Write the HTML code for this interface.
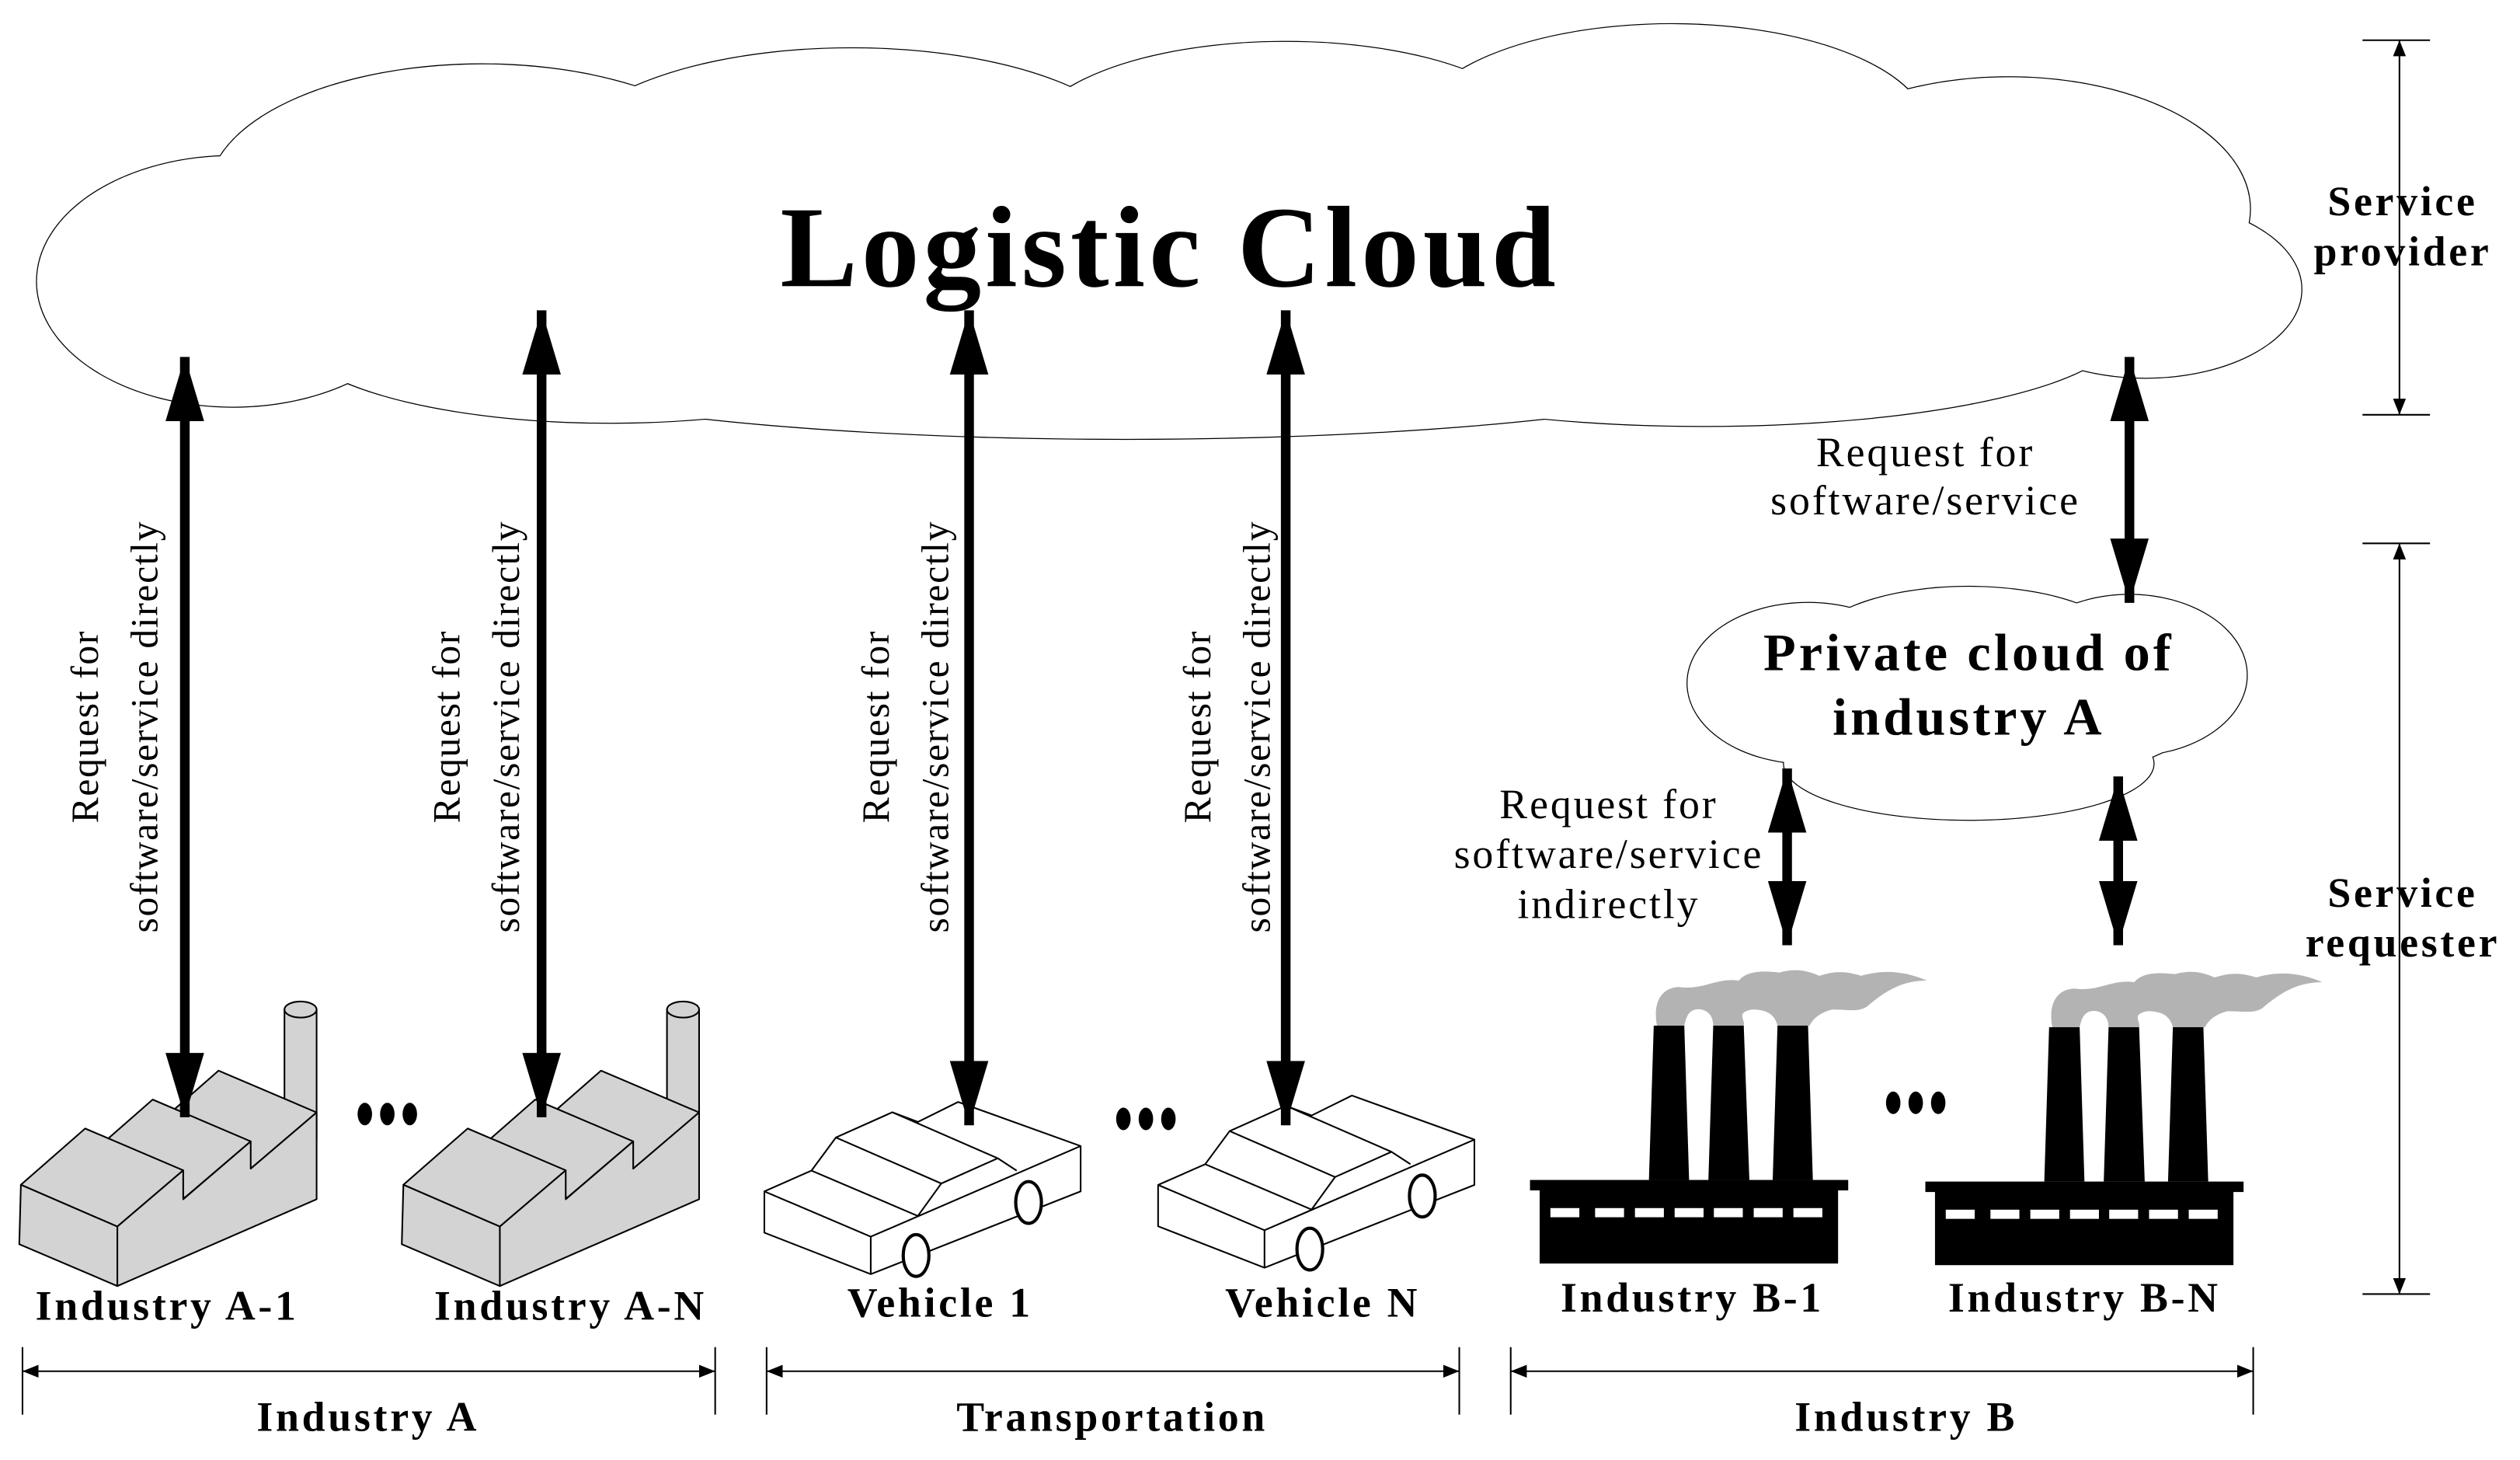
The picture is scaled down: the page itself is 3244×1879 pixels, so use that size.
<!DOCTYPE html>
<html><head><meta charset="utf-8"><style>html,body{margin:0;padding:0;background:#fff}svg{display:block}</style></head>
<body>
<svg width="3244" height="1879" viewBox="0 0 1568 908.2" xmlns="http://www.w3.org/2000/svg" font-family="'Liberation Serif', serif">
<defs>
<marker id="ah" viewBox="0 0 40 24" refX="40" refY="12" markerWidth="40" markerHeight="24" markerUnits="userSpaceOnUse" orient="auto-start-reverse"><path d="M0,0 L40,12 L0,24 Z" fill="#000"/></marker>
<g id="bigE">
<ellipse cx="145" cy="175" rx="122" ry="78"/>
<ellipse cx="300" cy="120" rx="170" ry="80"/>
<ellipse cx="530" cy="100" rx="180" ry="70"/>
<ellipse cx="800" cy="88" rx="160" ry="62"/>
<ellipse cx="1040" cy="82" rx="160" ry="67"/>
<ellipse cx="1250" cy="130" rx="150" ry="82"/>
<ellipse cx="1335" cy="180" rx="97" ry="55"/>
<ellipse cx="700" cy="215" rx="420" ry="58"/>
<ellipse cx="1060" cy="205" rx="260" ry="60"/>
<ellipse cx="380" cy="205" rx="200" ry="58"/>
<ellipse cx="720" cy="150" rx="620" ry="95"/>
</g>
<g id="smallE">
<ellipse cx="1225" cy="437" rx="150" ry="52"/>
<ellipse cx="1125" cy="425" rx="75" ry="50"/>
<ellipse cx="1325" cy="420" rx="73" ry="50"/>
<ellipse cx="1225" cy="405" rx="100" ry="40"/>
<ellipse cx="1225" cy="475" rx="115" ry="35"/>
</g>
<g id="factA">
<rect x="177" y="628" width="20" height="80" fill="#d3d3d3" stroke="#000" stroke-width="1"/>
<ellipse cx="187" cy="628" rx="10" ry="5" fill="#d3d3d3" stroke="#000" stroke-width="1"/>
<g fill="#d3d3d3" stroke="#000" stroke-width="1" stroke-linejoin="round">
<polygon points="96,701 136,666 197,692 156,727"/>
<polygon points="55,719 95,684 156,710 115,745"/>
<polygon points="13,737 53,702 114,728 73,763"/>
<polygon points="73,763 114,728 114,746 156,710 156,727 197,692 197,746 73,800"/>
<polygon points="13,737 73,763 73,800 12,774"/>
</g>
</g>
<g id="car" fill="#fff" stroke="#000" stroke-width="1" stroke-linejoin="round">
<polygon points="475.6,741.1 504.9,728.2 520.1,707.6 555.2,691.9 571.1,697.9 596.2,685.5 672.4,712.9 672.4,741.1 541.8,792.6 475.6,766.8"/>
<polyline fill="none" points="475.6,741.1 541.8,769.3 672.4,712.9"/>
<line x1="541.8" y1="769.3" x2="541.8" y2="792.6"/>
<polyline fill="none" points="504.9,728.2 571.1,756.4 585.7,736.2 520.1,707.6"/>
<polyline fill="none" points="585.7,736.2 620.8,720.5 555.2,691.9"/>
<line x1="620.8" y1="720.5" x2="632.6" y2="728.2"/>
<ellipse cx="640" cy="748" rx="8" ry="13" stroke-width="2"/>
<ellipse cx="570" cy="781" rx="8" ry="13" stroke-width="2"/>
</g>
<g id="factB">
<path d="M1031,638 C1028,622 1035,614 1045,614 C1060,616 1068,608 1082,610 C1085,606 1092,603 1107,605 C1118,602 1125,604 1132,607 C1142,604 1148,604 1158,607 C1172,603 1185,604 1199,610 C1185,610 1175,615 1163,625 C1158,630 1150,628 1140,628 C1132,630 1128,634 1126,638 L1106,638 C1104,630 1098,628 1090,628 C1080,630 1086,634 1085,638 L1066,638 C1066,630 1060,627 1055,628 C1050,629 1049,634 1048,638 Z" fill="#b3b3b3"/>
<g fill="#000">
<polygon points="1029,638 1048,638 1051,734 1026,734"/>
<polygon points="1066,638 1085,638 1088.5,734 1063,734"/>
<polygon points="1106,638 1125,638 1128,734 1103,734"/>
<rect x="952" y="734" width="198" height="6.5"/>
<rect x="958" y="740" width="185.7" height="46"/>
</g>
<g fill="#fff">
<rect x="964.7" y="751.5" width="18" height="5.7"/><rect x="992.5" y="751.5" width="18" height="5.7"/><rect x="1017.3" y="751.5" width="18" height="5.7"/><rect x="1042" y="751.5" width="18" height="5.7"/><rect x="1066.4" y="751.5" width="18" height="5.7"/><rect x="1091.2" y="751.5" width="18" height="5.7"/><rect x="1115.9" y="751.5" width="18" height="5.7"/>
</g>
</g>
</defs>

<use href="#bigE" fill="#fff" stroke="#000" stroke-width="1.2"/>
<use href="#bigE" fill="#fff" stroke="none"/>
<use href="#smallE" fill="#fff" stroke="#000" stroke-width="1.2"/>
<use href="#smallE" fill="#fff" stroke="none"/>

<text x="728" y="178" font-size="72" font-weight="bold" letter-spacing="2.5" text-anchor="middle">Logistic Cloud</text>
<text x="1225" y="417" font-size="33" font-weight="bold" letter-spacing="2" text-anchor="middle">Private cloud of</text>
<text x="1225" y="457" font-size="33" font-weight="bold" letter-spacing="2" text-anchor="middle">industry A</text>

<use href="#factA"/>
<use href="#factA" transform="translate(238,0)"/>
<use href="#car"/>
<use href="#car" transform="translate(245,-4)"/>
<use href="#factB"/>
<use href="#factB" transform="translate(246,1)"/>

<g stroke="#000" stroke-width="6" marker-start="url(#ah)" marker-end="url(#ah)">
<line x1="115" y1="222" x2="115" y2="695"/>
<line x1="337" y1="193" x2="337" y2="695"/>
<line x1="603" y1="193" x2="603" y2="700"/>
<line x1="800" y1="193" x2="800" y2="700"/>
<line x1="1325" y1="222" x2="1325" y2="375"/>
<line x1="1112" y1="478" x2="1112" y2="588"/>
<line x1="1318" y1="483" x2="1318" y2="588"/>
</g>

<g fill="#000">
<ellipse cx="227" cy="693" rx="4.5" ry="7"/><ellipse cx="241" cy="693" rx="4.5" ry="7"/><ellipse cx="255" cy="693" rx="4.5" ry="7"/>
<ellipse cx="699" cy="696" rx="4.5" ry="7"/><ellipse cx="713" cy="696" rx="4.5" ry="7"/><ellipse cx="727" cy="696" rx="4.5" ry="7"/>
<ellipse cx="1178" cy="686" rx="4.5" ry="7"/><ellipse cx="1192" cy="686" rx="4.5" ry="7"/><ellipse cx="1206" cy="686" rx="4.5" ry="7"/>
</g>

<g font-size="24" letter-spacing="0.8" text-anchor="middle">
<g transform="translate(61,452) rotate(-90)"><text x="0" y="0">Request for</text><text x="0" y="37">software/service directly</text></g>
<g transform="translate(286,452) rotate(-90)"><text x="0" y="0">Request for</text><text x="0" y="37">software/service directly</text></g>
<g transform="translate(553,452) rotate(-90)"><text x="0" y="0">Request for</text><text x="0" y="37">software/service directly</text></g>
<g transform="translate(753,452) rotate(-90)"><text x="0" y="0">Request for</text><text x="0" y="37">software/service directly</text></g>
</g>
<g font-size="26" letter-spacing="1.4" text-anchor="middle">
<text x="1198" y="290">Request for</text>
<text x="1198" y="320">software/service</text>
<text x="1001" y="509">Request for</text>
<text x="1001" y="540">software/service</text>
<text x="1001" y="571">indirectly</text>
</g>

<g font-size="26" font-weight="bold" letter-spacing="1.8" text-anchor="middle">
<text x="104" y="821">Industry A-1</text>
<text x="355" y="821">Industry A-N</text>
<text x="585" y="819">Vehicle 1</text>
<text x="823" y="819">Vehicle N</text>
<text x="1053" y="816">Industry B-1</text>
<text x="1297" y="816">Industry B-N</text>
<text x="229" y="890">Industry A</text>
<text x="692" y="890">Transportation</text>
<text x="1186" y="890">Industry B</text>
<text x="1495" y="134">Service</text>
<text x="1495" y="165">provider</text>
<text x="1495" y="564">Service</text>
<text x="1495" y="595">requester</text>
</g>

<defs>
<marker id="sa" viewBox="0 0 10 8" refX="10" refY="4" markerWidth="10" markerHeight="8" markerUnits="userSpaceOnUse" orient="auto-start-reverse"><path d="M0,0 L10,4 L0,8 Z" fill="#000"/></marker>
</defs>
<g stroke="#000" stroke-width="1">
<line x1="14" y1="853" x2="445" y2="853" marker-start="url(#sa)" marker-end="url(#sa)"/>
<line x1="14" y1="838" x2="14" y2="880"/><line x1="445" y1="838" x2="445" y2="880"/>
<line x1="477" y1="853" x2="908" y2="853" marker-start="url(#sa)" marker-end="url(#sa)"/>
<line x1="477" y1="838" x2="477" y2="880"/><line x1="908" y1="838" x2="908" y2="880"/>
<line x1="940" y1="853" x2="1402" y2="853" marker-start="url(#sa)" marker-end="url(#sa)"/>
<line x1="940" y1="838" x2="940" y2="880"/><line x1="1402" y1="838" x2="1402" y2="880"/>
<line x1="1493" y1="25" x2="1493" y2="258" marker-start="url(#sa)" marker-end="url(#sa)"/>
<line x1="1470" y1="25" x2="1512" y2="25"/><line x1="1470" y1="258" x2="1512" y2="258"/>
<line x1="1493" y1="338" x2="1493" y2="805" marker-start="url(#sa)" marker-end="url(#sa)"/>
<line x1="1470" y1="338" x2="1512" y2="338"/><line x1="1470" y1="805" x2="1512" y2="805"/>
</g>
</svg>
</body></html>
